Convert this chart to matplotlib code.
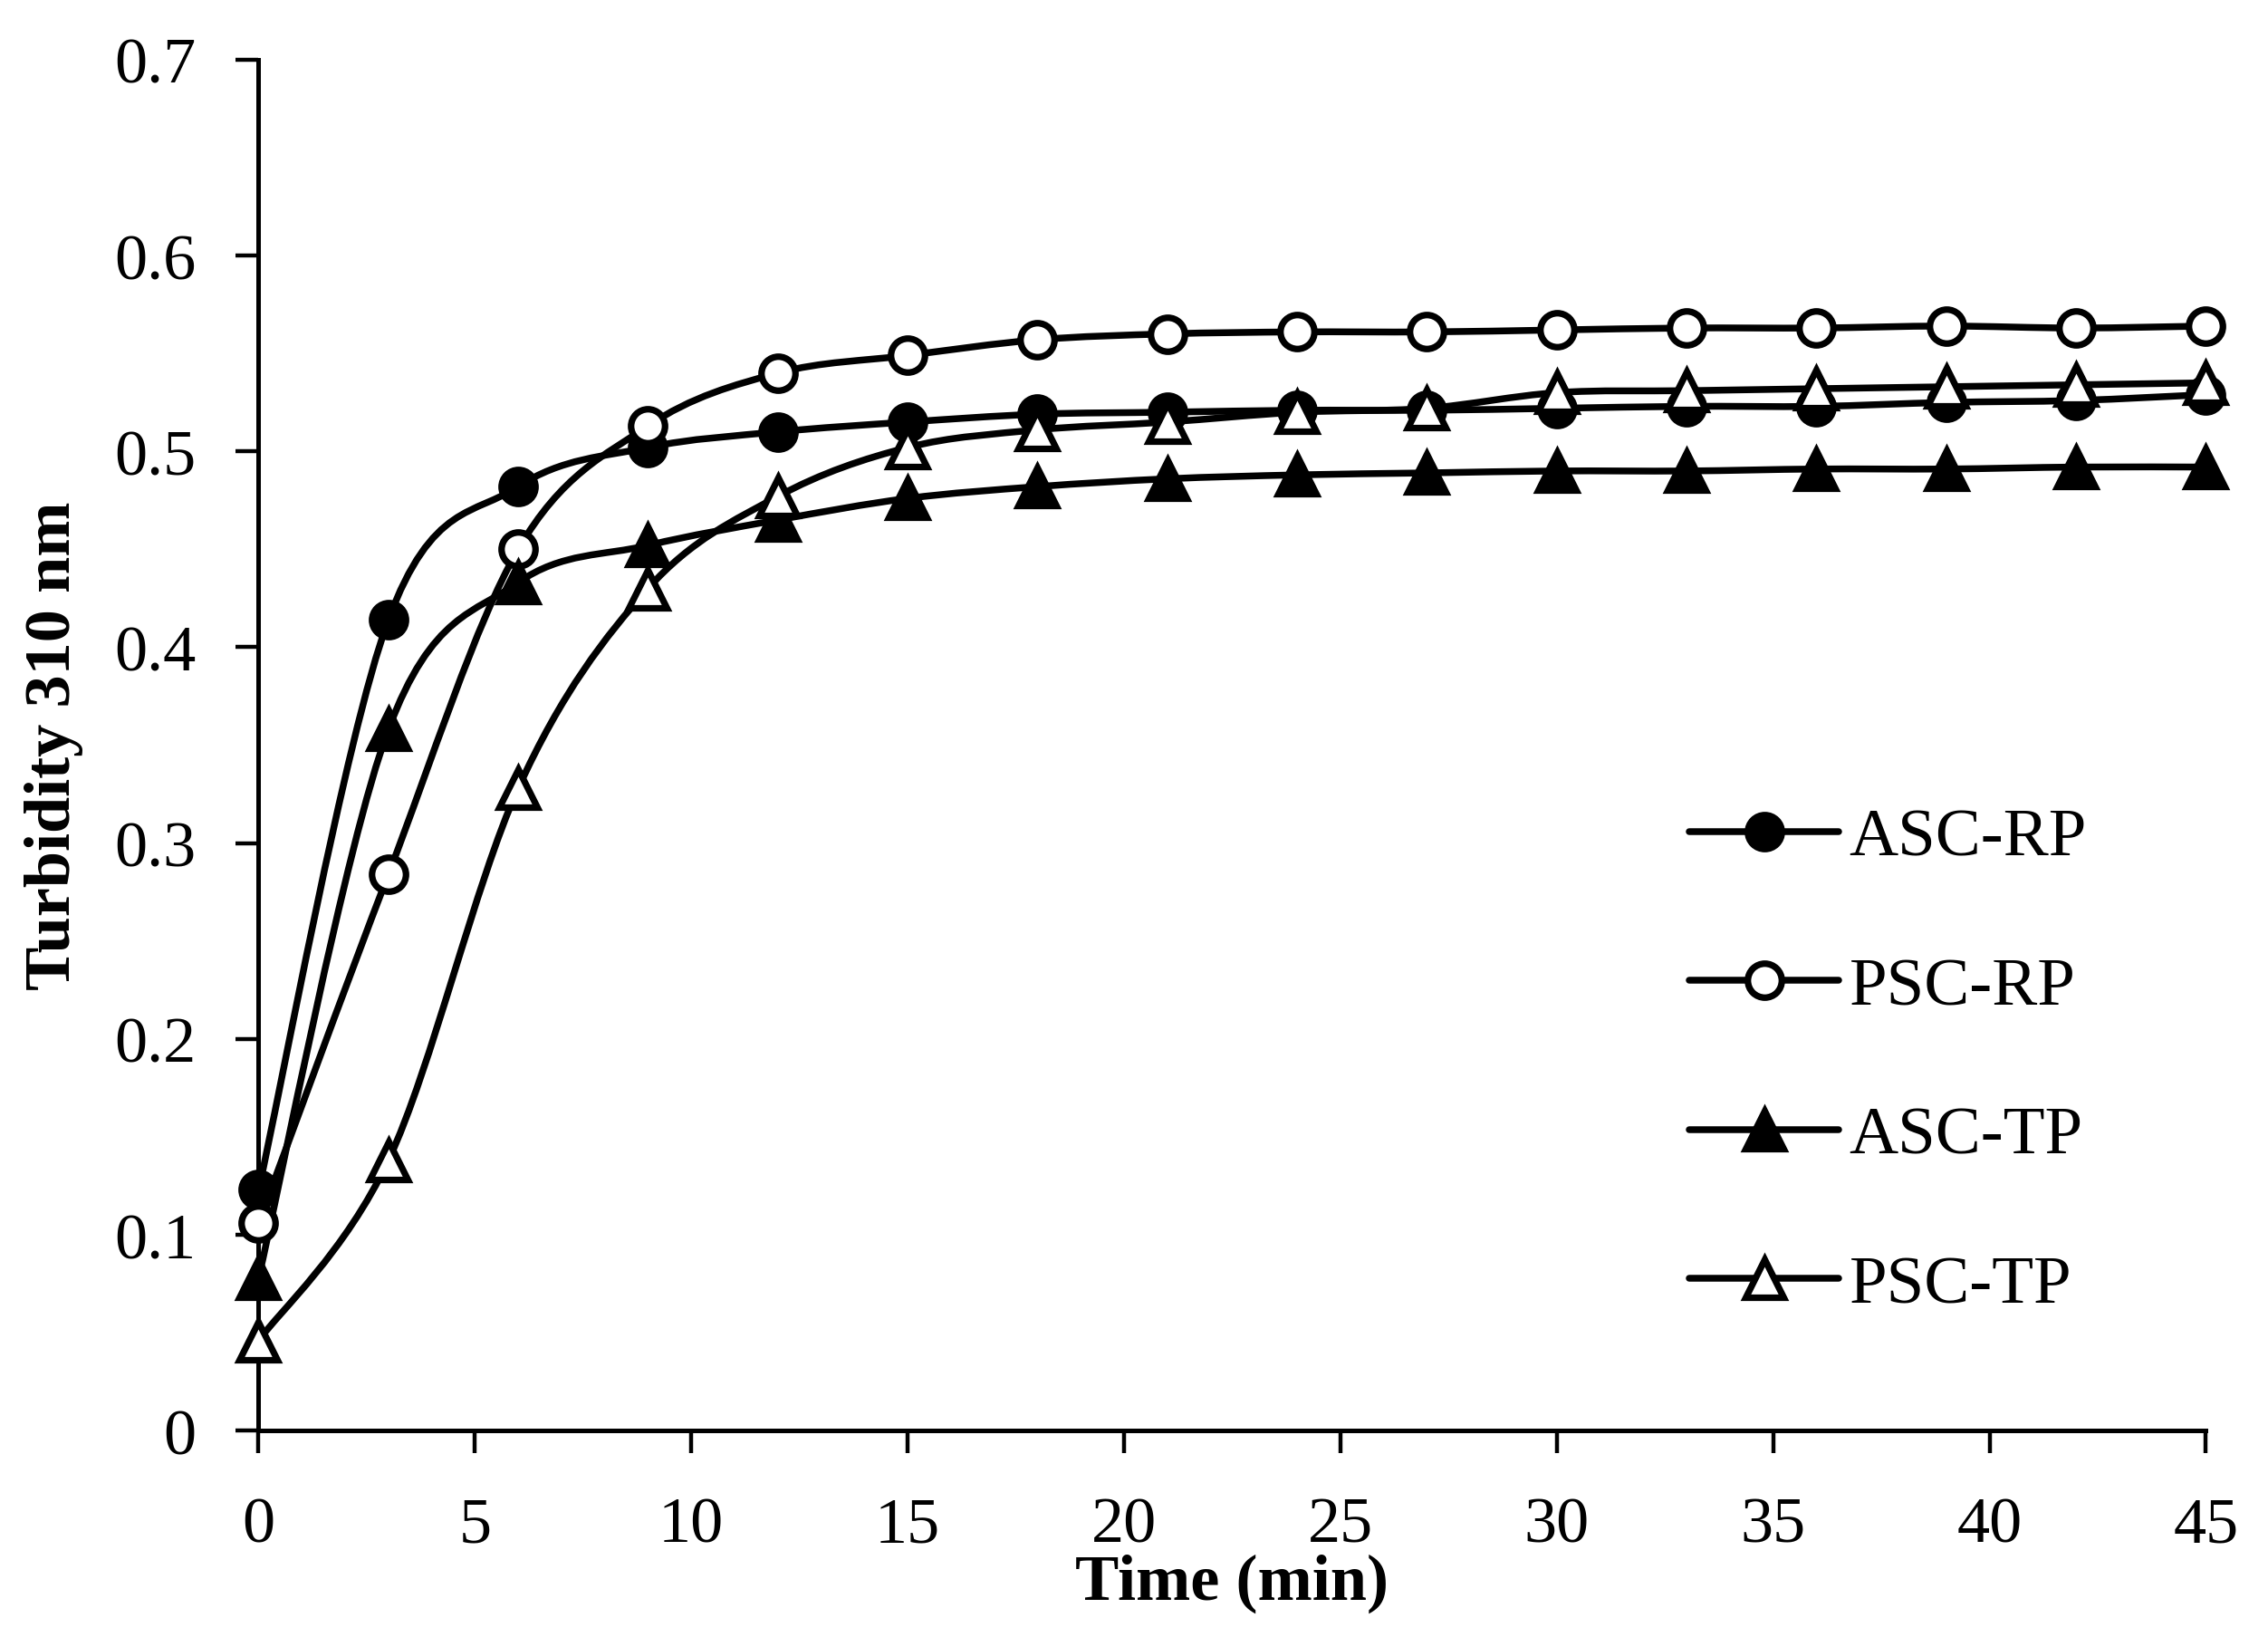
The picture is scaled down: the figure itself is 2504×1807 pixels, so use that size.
import numpy as np
import matplotlib.pyplot as plt
from matplotlib.path import Path
from matplotlib.patches import PathPatch
from matplotlib.lines import Line2D
from matplotlib.transforms import IdentityTransform

plt.rcParams["font.family"] = ["Liberation Serif", "DejaVu Serif"]

# ----------------------------------------------------------
# Data
# ----------------------------------------------------------
time_min = [0, 3, 6, 9, 12, 15, 18, 21, 24, 27, 30, 33, 36, 39, 42, 45]

asc_rp = [0.123, 0.414, 0.482, 0.502, 0.510, 0.515, 0.519, 0.520,
          0.521, 0.521, 0.522, 0.523, 0.523, 0.525, 0.526, 0.529]
psc_rp = [0.106, 0.284, 0.450, 0.513, 0.540, 0.549, 0.557, 0.560,
          0.561, 0.561, 0.562, 0.563, 0.563, 0.564, 0.563, 0.564]
asc_tp = [0.078, 0.358, 0.433, 0.452, 0.465, 0.476, 0.482, 0.486,
          0.488, 0.489, 0.490, 0.490, 0.491, 0.491, 0.492, 0.492]
psc_tp = [0.046, 0.138, 0.328, 0.430, 0.477, 0.502, 0.511, 0.515,
          0.520, 0.522, 0.530, 0.531, 0.532, 0.533, 0.534, 0.535]

series_names = ["ASC-RP", "PSC-RP", "ASC-TP", "PSC-TP"]
series_values = [asc_rp, psc_rp, asc_tp, psc_tp]
series_markers = ["o", "o", "^", "^"]
series_faces = ["black", "white", "black", "white"]

x_ticks = [0, 5, 10, 15, 20, 25, 30, 35, 40, 45]
y_ticks = [0, 0.1, 0.2, 0.3, 0.4, 0.5, 0.6, 0.7]
y_tick_labels = ["0", "0.1", "0.2", "0.3", "0.4", "0.5", "0.6", "0.7"]

LW = 2.7
MEW = 2.6
MSIZE = {"o": 13.5, "^": 15}


def smooth_path(ax, xs, ys):
    """Excel-style smoothed line: cubic Bezier segments (Catmull-Rom)."""
    pts = ax.transData.transform(np.column_stack([xs, ys]))
    n = len(pts)
    verts = [pts[0]]
    codes = [Path.MOVETO]
    for i in range(n - 1):
        p0 = pts[i - 1] if i > 0 else pts[i]
        p1 = pts[i]
        p2 = pts[i + 1]
        p3 = pts[i + 2] if i + 2 < n else pts[i + 1]
        c1 = p1 + (p2 - p0) / 6.0
        c2 = p2 - (p3 - p1) / 6.0
        verts += [c1, c2, p2]
        codes += [Path.CURVE4] * 3
    return Path(verts, codes)


fig = plt.figure(figsize=(12.52, 9.04), dpi=200)
ax = fig.add_axes([0.114, 0.126, 0.8586, 0.837])
ax.set_xlim(0, 45)
ax.set_ylim(0, 0.7)

handles = []
for name, vals, mk, fc in zip(series_names, series_values, series_markers, series_faces):
    path = smooth_path(ax, time_min, vals)
    patch = PathPatch(path, facecolor="none", edgecolor="black",
                      linewidth=LW, capstyle="round", joinstyle="round",
                      zorder=2)
    patch.set_transform(IdentityTransform())
    ax.add_patch(patch)
    ax.plot(time_min, vals, linestyle="none", marker=mk, markersize=MSIZE[mk],
            markerfacecolor=fc, markeredgecolor="black",
            markeredgewidth=MEW, zorder=3, clip_on=False)
    handles.append(Line2D([], [], color="black", linewidth=LW, marker=mk,
                          markersize=MSIZE[mk], markerfacecolor=fc,
                          markeredgecolor="black", markeredgewidth=MEW,
                          solid_capstyle="round"))

ax.spines["top"].set_visible(False)
ax.spines["right"].set_visible(False)
for s in ("left", "bottom"):
    ax.spines[s].set_linewidth(1.8)

ax.set_xticks(x_ticks)
ax.set_yticks(y_ticks)
ax.set_yticklabels(y_tick_labels)
ax.tick_params(axis="both", direction="out", length=9, width=1.6,
               labelsize=26)
ax.tick_params(axis="x", pad=17)
ax.tick_params(axis="y", pad=16)

ax.set_xlabel("Time (min)", fontsize=26, fontweight="bold", labelpad=-0.5)
ax.set_ylabel("Turbidity 310 nm", fontsize=26, fontweight="bold", labelpad=12)

fig.legend(handles, series_names, loc="center left",
           bbox_to_anchor=(0.745, 0.351), frameon=False, fontsize=27,
           handlelength=2.2, handletextpad=0.15, labelspacing=1.28,
           borderpad=0, borderaxespad=0)

fig.savefig("out.png", dpi=200)
